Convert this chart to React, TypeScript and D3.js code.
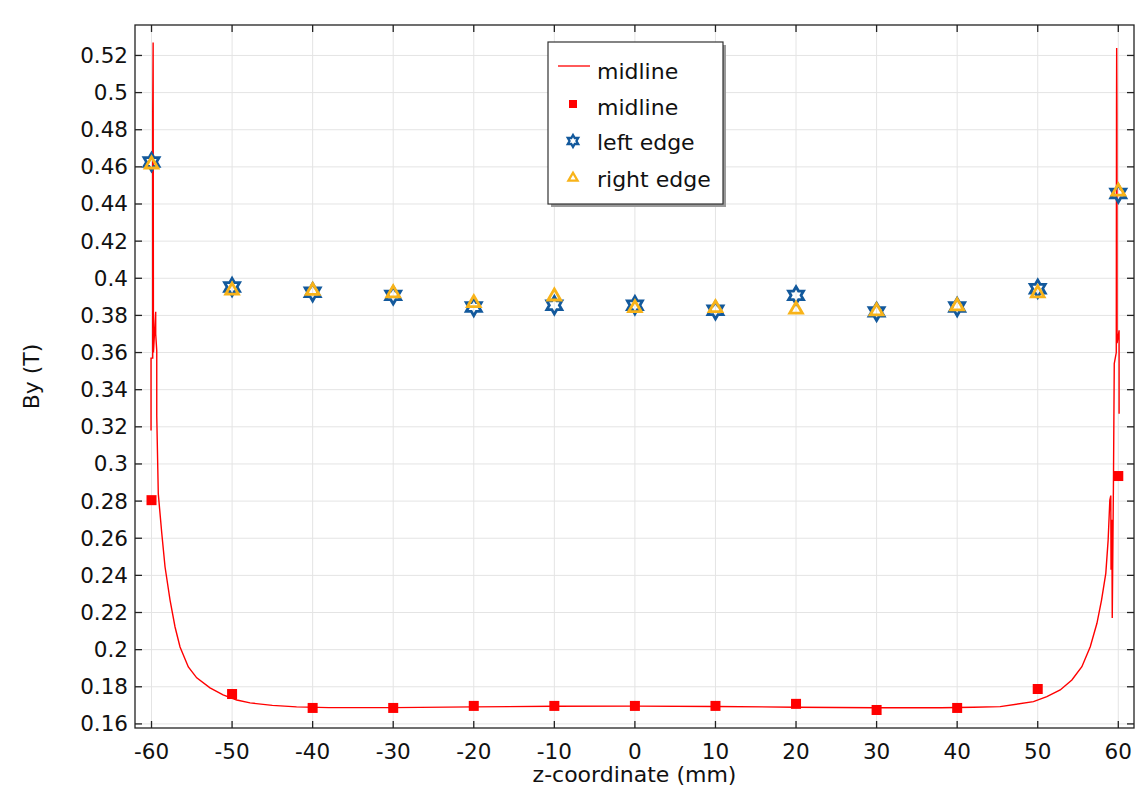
import React, { useEffect, useRef } from 'react';
import * as d3 from 'd3';

// z positions of the sampled points (mm)
const zPoints = [-60, -50, -40, -30, -20, -10, 0, 10, 20, 30, 40, 50, 60];
const midlinePts = [0.2805, 0.1761, 0.1686, 0.1686, 0.1697, 0.1697, 0.1697, 0.1697, 0.1708, 0.1675, 0.1686, 0.1788, 0.2935];
const leftEdgePts = [0.4626, 0.3953, 0.3925, 0.3908, 0.3845, 0.3855, 0.3855, 0.3828, 0.3908, 0.3819, 0.3845, 0.3944, 0.4457];
const rightEdgePts = [0.4619, 0.394, 0.3938, 0.3925, 0.3872, 0.3908, 0.3845, 0.3845, 0.3837, 0.3828, 0.3855, 0.3925, 0.4473];

// midline curve (z, By), including the spikes at the ends
const lineZ = [
  -60.06, -60.06, -59.85, -59.85, -59.8, -59.76, -59.48, -59.48, -59.35, -59.35, -59.16,
  -58.73, -58.32, -57.7, -57.08, -56.46, -55.43, -54.39, -52.74, -51.12, -49.42, -47.77,
  -45, -42, -38, -30, -20, -10, 0, 10, 20, 30, 38, 42, 45.34,
  49.47, 51.13, 52.79, 54.24, 55.48, 56.52, 57.35, 57.92, 58.45, 58.74, 58.95, 59.07,
  59.1, 59.2, 59.25, 59.4, 59.5, 59.75, 59.78, 59.8, 59.83, 59.85, 60.1, 60.1,
];
const lineBy = [
  0.318, 0.357, 0.357, 0.49, 0.527, 0.36, 0.382, 0.37, 0.361, 0.326, 0.284,
  0.2628, 0.2445, 0.2267, 0.2122, 0.2014, 0.1907, 0.1848, 0.1794, 0.1756, 0.1729, 0.1713,
  0.17, 0.1692, 0.1688, 0.1688, 0.1692, 0.1695, 0.1696, 0.1694, 0.169, 0.1687, 0.1687, 0.169, 0.1693,
  0.172, 0.1747, 0.1783, 0.1837, 0.1908, 0.2016, 0.2142, 0.2267, 0.2411, 0.259, 0.2805, 0.283,
  0.243, 0.27, 0.217, 0.29, 0.354, 0.36, 0.489, 0.524, 0.489, 0.365, 0.372, 0.327,
];

const xTicks = [-60, -50, -40, -30, -20, -10, 0, 10, 20, 30, 40, 50, 60];
const yTicks = [0.16, 0.18, 0.2, 0.22, 0.24, 0.26, 0.28, 0.3, 0.32, 0.34, 0.36, 0.38, 0.4, 0.42, 0.44, 0.46, 0.48, 0.5, 0.52];
const legendLabels = ['midline', 'midline', 'left edge', 'right edge'];

const RED = '#ff0000';
const BLUE = '#13599c';
const ORANGE = '#f8b319';
const FONT = '"DejaVu Sans", sans-serif';

// outline of a six-pointed star
const hexagram = {
  draw(ctx: any, size: number) {
    const R = Math.sqrt(size) / 2;
    const r = R / Math.sqrt(3);
    for (let i = 0; i < 12; i++) {
      const a = -Math.PI / 2 + (i * Math.PI) / 6;
      const rad = i % 2 === 0 ? R : r;
      const px = Math.cos(a) * rad;
      const py = Math.sin(a) * rad;
      if (i === 0) ctx.moveTo(px, py);
      else ctx.lineTo(px, py);
    }
    ctx.closePath();
  },
};

const App = () => {
  const svgRef = useRef<SVGSVGElement>(null);

  useEffect(() => {
    const svg = d3.select(svgRef.current);
    svg.selectAll('*').remove();

    const left = 135, right = 1134, top = 25, bottom = 728;
    const x = d3.scaleLinear().domain([-62.05, 61.95]).range([left, right]);
    const y = d3.scaleLinear().domain([0.1578, 0.5364]).range([bottom, top]);

    // grid
    const grid = svg.append('g');
    grid.selectAll('.gx').data(xTicks).enter().append('line')
      .attr('x1', (d) => x(d)).attr('x2', (d) => x(d))
      .attr('y1', top).attr('y2', bottom)
      .attr('stroke', '#e4e4e4').attr('stroke-width', 1);
    grid.selectAll('.gy').data(yTicks).enter().append('line')
      .attr('x1', left).attr('x2', right)
      .attr('y1', (d) => y(d)).attr('y2', (d) => y(d))
      .attr('stroke', '#e4e4e4').attr('stroke-width', 1);

    // plot area clip
    svg.append('clipPath').attr('id', 'plotclip').append('rect')
      .attr('x', left).attr('y', top).attr('width', right - left).attr('height', bottom - top);

    const plot = svg.append('g').attr('clip-path', 'url(#plotclip)');

    const lineData = lineZ.map((z, i) => [z, lineBy[i]] as [number, number]);
    const line = d3.line<[number, number]>().x((d) => x(d[0])).y((d) => y(d[1]));
    plot.append('path')
      .datum(lineData)
      .attr('d', line)
      .attr('fill', 'none')
      .attr('stroke', RED)
      .attr('stroke-width', 1.4);

    // midline squares
    plot.selectAll('.sq').data(zPoints).enter().append('rect')
      .attr('x', (d) => x(d) - 5).attr('y', (d, i) => y(midlinePts[i]) - 5)
      .attr('width', 10).attr('height', 10)
      .attr('fill', RED);

    const star = d3.symbol().type(hexagram as any).size(300);
    plot.selectAll('.st').data(zPoints).enter().append('path')
      .attr('d', star)
      .attr('transform', (d, i) => `translate(${x(d)},${y(leftEdgePts[i])})`)
      .attr('fill', 'none').attr('stroke', BLUE).attr('stroke-width', 2.8)
      .attr('stroke-linejoin', 'miter');

    const tri = d3.symbol().type(d3.symbolTriangle2).size(115);
    plot.selectAll('.tr').data(zPoints).enter().append('path')
      .attr('d', tri)
      .attr('transform', (d, i) => `translate(${x(d)},${y(rightEdgePts[i]) + 1})`)
      .attr('fill', 'none').attr('stroke', ORANGE).attr('stroke-width', 2.8)
      .attr('stroke-linejoin', 'miter');

    // frame
    svg.append('rect')
      .attr('x', left).attr('y', top).attr('width', right - left).attr('height', bottom - top)
      .attr('fill', 'none').attr('stroke', '#222').attr('stroke-width', 1.3);

    // inward ticks on all sides
    const tl = 7;
    const ticks = svg.append('g').attr('stroke', '#222').attr('stroke-width', 1.3);
    xTicks.forEach((t) => {
      ticks.append('line').attr('x1', x(t)).attr('x2', x(t)).attr('y1', bottom).attr('y2', bottom - tl);
      ticks.append('line').attr('x1', x(t)).attr('x2', x(t)).attr('y1', top).attr('y2', top + tl);
    });
    yTicks.forEach((t) => {
      ticks.append('line').attr('x1', left).attr('x2', left + tl).attr('y1', y(t)).attr('y2', y(t));
      ticks.append('line').attr('x1', right).attr('x2', right - tl).attr('y1', y(t)).attr('y2', y(t));
    });

    // tick labels
    svg.append('g').selectAll('text').data(xTicks).enter().append('text')
      .attr('x', (d) => x(d)).attr('y', 759)
      .attr('text-anchor', 'middle')
      .attr('font-family', FONT).attr('font-size', 21.5).attr('fill', '#111')
      .text((d) => String(d));
    svg.append('g').selectAll('text').data(yTicks).enter().append('text')
      .attr('x', 128).attr('y', (d) => y(d) + 7.5)
      .attr('text-anchor', 'end')
      .attr('font-family', FONT).attr('font-size', 21.5).attr('fill', '#111')
      .text((d) => String(+d.toFixed(2)));

    // axis titles
    svg.append('text')
      .attr('x', (left + right) / 2).attr('y', 782)
      .attr('text-anchor', 'middle')
      .attr('font-family', FONT).attr('font-size', 22).attr('fill', '#111')
      .text('z-coordinate (mm)');
    svg.append('text')
      .attr('transform', `translate(39,${(top + bottom) / 2}) rotate(-90)`)
      .attr('text-anchor', 'middle')
      .attr('font-family', FONT).attr('font-size', 22).attr('fill', '#111')
      .text('By (T)');

    // legend
    const lg = svg.append('g').attr('transform', 'translate(548,42)');
    lg.append('rect').attr('x', 3).attr('y', 3).attr('width', 175).attr('height', 162).attr('fill', '#9a9a9a');
    lg.append('rect').attr('x', 0).attr('y', 0).attr('width', 175).attr('height', 162)
      .attr('fill', '#fff').attr('stroke', '#333').attr('stroke-width', 1.2);
    const rowY = [29, 65, 100, 137];
    legendLabels.forEach((lab, i) => {
      lg.append('text')
        .attr('x', 49).attr('y', rowY[i] + 8)
        .attr('font-family', FONT).attr('font-size', 22).attr('fill', '#111')
        .text(lab);
    });
    lg.append('line').attr('x1', 10).attr('x2', 42).attr('y1', rowY[0] - 5).attr('y2', rowY[0] - 5)
      .attr('stroke', RED).attr('stroke-width', 1.3);
    lg.append('rect').attr('x', 25 - 4).attr('y', rowY[1] - 3 - 4).attr('width', 8).attr('height', 8).attr('fill', RED);
    lg.append('path').attr('d', d3.symbol().type(hexagram as any).size(144)())
      .attr('transform', `translate(25,${rowY[2] - 1})`)
      .attr('fill', 'none').attr('stroke', BLUE).attr('stroke-width', 2.3);
    lg.append('path').attr('d', d3.symbol().type(d3.symbolTriangle2).size(60)())
      .attr('transform', `translate(25,${rowY[3] - 1})`)
      .attr('fill', 'none').attr('stroke', ORANGE).attr('stroke-width', 2.3);
  }, []);

  return (
    <svg
      ref={svgRef}
      width={1138}
      height={788}
      style={{ position: 'absolute', left: 0, top: 0, background: '#fff' }}
    />
  );
};

export default App;
